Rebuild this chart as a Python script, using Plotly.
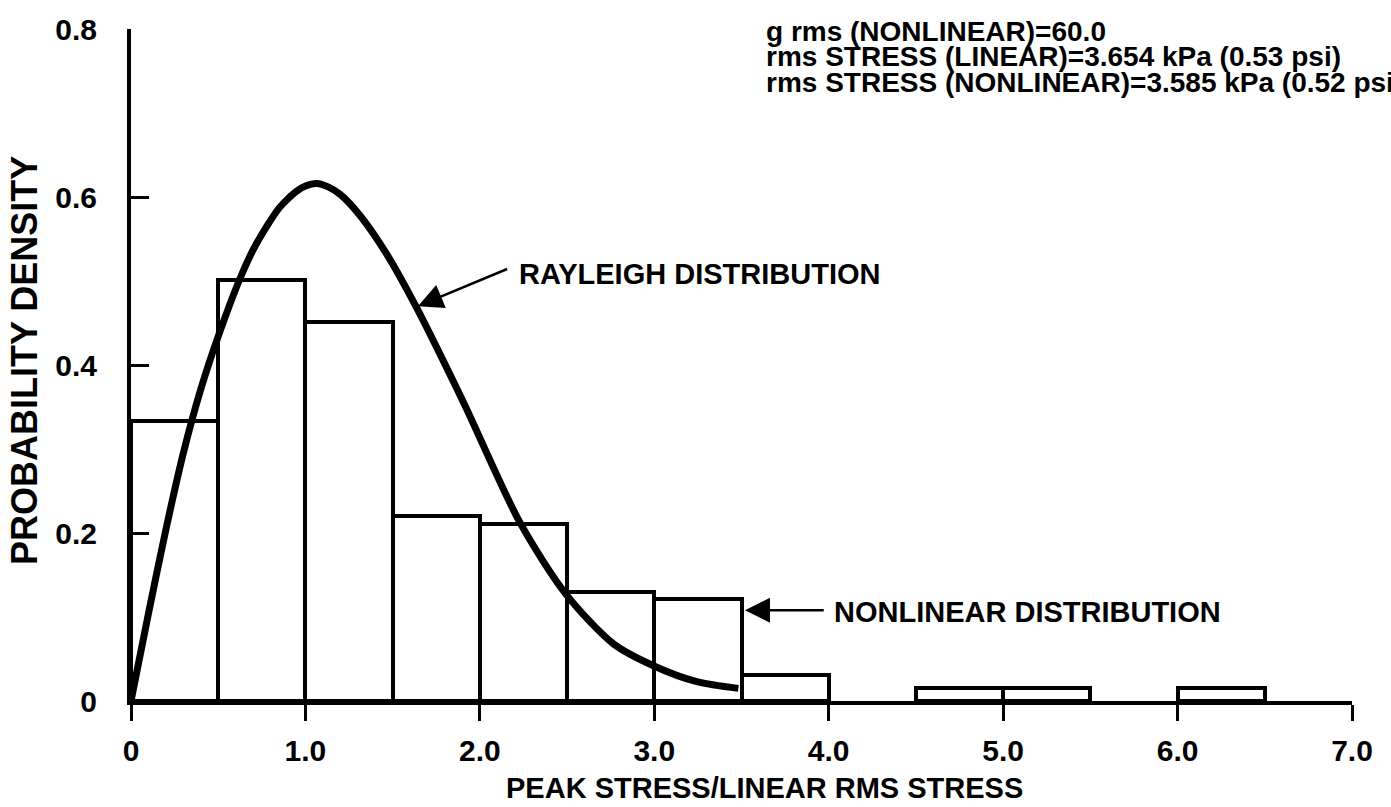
import plotly.graph_objects as go

# histogram of peak stress / linear rms stress (bin width 0.5)
bin_centers = [0.25, 0.75, 1.25, 1.75, 2.25, 2.75, 3.25, 3.75, 4.75, 5.25, 6.25]
bin_density = [0.333, 0.501, 0.451, 0.220, 0.211, 0.130, 0.122, 0.031, 0.016, 0.016, 0.016]

# Rayleigh curve
curve_x = [0.0, 0.1, 0.2, 0.3, 0.4, 0.5, 0.625, 0.7, 0.778, 0.85, 0.9, 0.95, 1.0, 1.065,
           1.13, 1.2, 1.313, 1.466, 1.638, 1.905, 2.231, 2.498, 2.766, 2.995, 3.244, 3.482]
curve_y = [0.0, 0.104, 0.204, 0.295, 0.371, 0.434, 0.503, 0.537, 0.565, 0.587, 0.598, 0.607,
           0.613, 0.616, 0.612, 0.603, 0.578, 0.532, 0.468, 0.356, 0.212, 0.126, 0.068,
           0.042, 0.023, 0.015]

x_ticks = [0, 1, 2, 3, 4, 5, 6, 7]
x_tick_text = ["0", "1.0", "2.0", "3.0", "4.0", "5.0", "6.0", "7.0"]
y_ticks = [0, 0.2, 0.4, 0.6, 0.8]
y_tick_text = ["0", "0.2", "0.4", "0.6", "0.8"]

info_lines = [
    "g rms (NONLINEAR)=60.0",
    "rms STRESS (LINEAR)=3.654 kPa (0.53 psi)",
    "rms STRESS (NONLINEAR)=3.585 kPa (0.52 psi)",
]

FONT = "Liberation Sans, Arial, sans-serif"

fig = go.Figure()

fig.add_trace(go.Bar(
    x=bin_centers,
    y=bin_density,
    width=0.5,
    marker=dict(color="white", line=dict(color="black", width=4)),
    showlegend=False,
))

fig.add_trace(go.Scatter(
    x=curve_x,
    y=curve_y,
    mode="lines",
    line=dict(color="black", width=7, shape="spline", smoothing=0.8),
    showlegend=False,
))

annotations = []

# arrows
annotations.append(dict(
    x=1.645, y=0.470, ax=2.165, ay=0.515, xref="x", yref="y", axref="x", ayref="y",
    text="", showarrow=True, arrowhead=2, arrowsize=2, arrowwidth=2.5, arrowcolor="black",
))
annotations.append(dict(
    x=3.52, y=0.108, ax=3.98, ay=0.108, xref="x", yref="y", axref="x", ayref="y",
    text="", showarrow=True, arrowhead=2, arrowsize=2, arrowwidth=2.5, arrowcolor="black",
))

annotations.append(dict(
    x=2.215, y=0.508, xref="x", yref="y", xanchor="left", yanchor="middle",
    text="<b>RAYLEIGH DISTRIBUTION</b>", showarrow=False,
    font=dict(family=FONT, size=29, color="black"),
))
annotations.append(dict(
    x=4.02, y=0.106, xref="x", yref="y", xanchor="left", yanchor="middle",
    text="<b>NONLINEAR DISTRIBUTION</b>", showarrow=False,
    font=dict(family=FONT, size=29, color="black"),
))

# info block, top right
for i, line in enumerate(info_lines):
    annotations.append(dict(
        x=0.5184, y=0.997 - i * 0.0385, xref="paper", yref="paper",
        xanchor="left", yanchor="middle", text=f"<b>{line}</b>", showarrow=False,
        font=dict(family=FONT, size=28, color="black"),
    ))

# axis titles
annotations.append(dict(
    x=0.519, y=-0.130, xref="paper", yref="paper", xanchor="center", yanchor="middle",
    text="<b>PEAK STRESS/LINEAR RMS STRESS</b>", showarrow=False,
    font=dict(family=FONT, size=29, color="black"),
))
annotations.append(dict(
    x=-0.087, y=0.507, xref="paper", yref="paper", xanchor="center", yanchor="middle",
    text="<b>PROBABILITY DENSITY</b>", textangle=-90, showarrow=False,
    font=dict(family=FONT, size=36, color="black"),
))

fig.update_layout(
    width=1391,
    height=807,
    margin=dict(l=131, r=39, t=18, b=106),
    paper_bgcolor="white",
    plot_bgcolor="white",
    bargap=0,
    annotations=annotations,
    font=dict(family=FONT, color="black"),
    xaxis=dict(
        range=[0, 7],
        tickvals=x_ticks,
        ticktext=[f"<b>{t}</b>" for t in x_tick_text],
        ticks="outside",
        ticklen=16,
        tickwidth=3,
        tickcolor="black",
        ticklabelstandoff=4,
        tickfont=dict(family=FONT, size=30, color="black"),
        showline=True,
        linecolor="black",
        linewidth=4,
        showgrid=False,
        zeroline=False,
    ),
    yaxis=dict(
        range=[0, 0.8],
        tickvals=y_ticks,
        ticktext=[f"<b>{t}</b>" for t in y_tick_text],
        ticks="inside",
        ticklen=18,
        tickwidth=3,
        tickcolor="black",
        ticklabelstandoff=24,
        tickfont=dict(family=FONT, size=30, color="black"),
        showline=True,
        linecolor="black",
        linewidth=4,
        showgrid=False,
        zeroline=False,
    ),
)

# drop the default 8px body margin so the figure sits flush with the window
fig.write_html(
    "out.html",
    config={"displayModeBar": False},
    post_script="document.body.style.margin = '0';",
)
